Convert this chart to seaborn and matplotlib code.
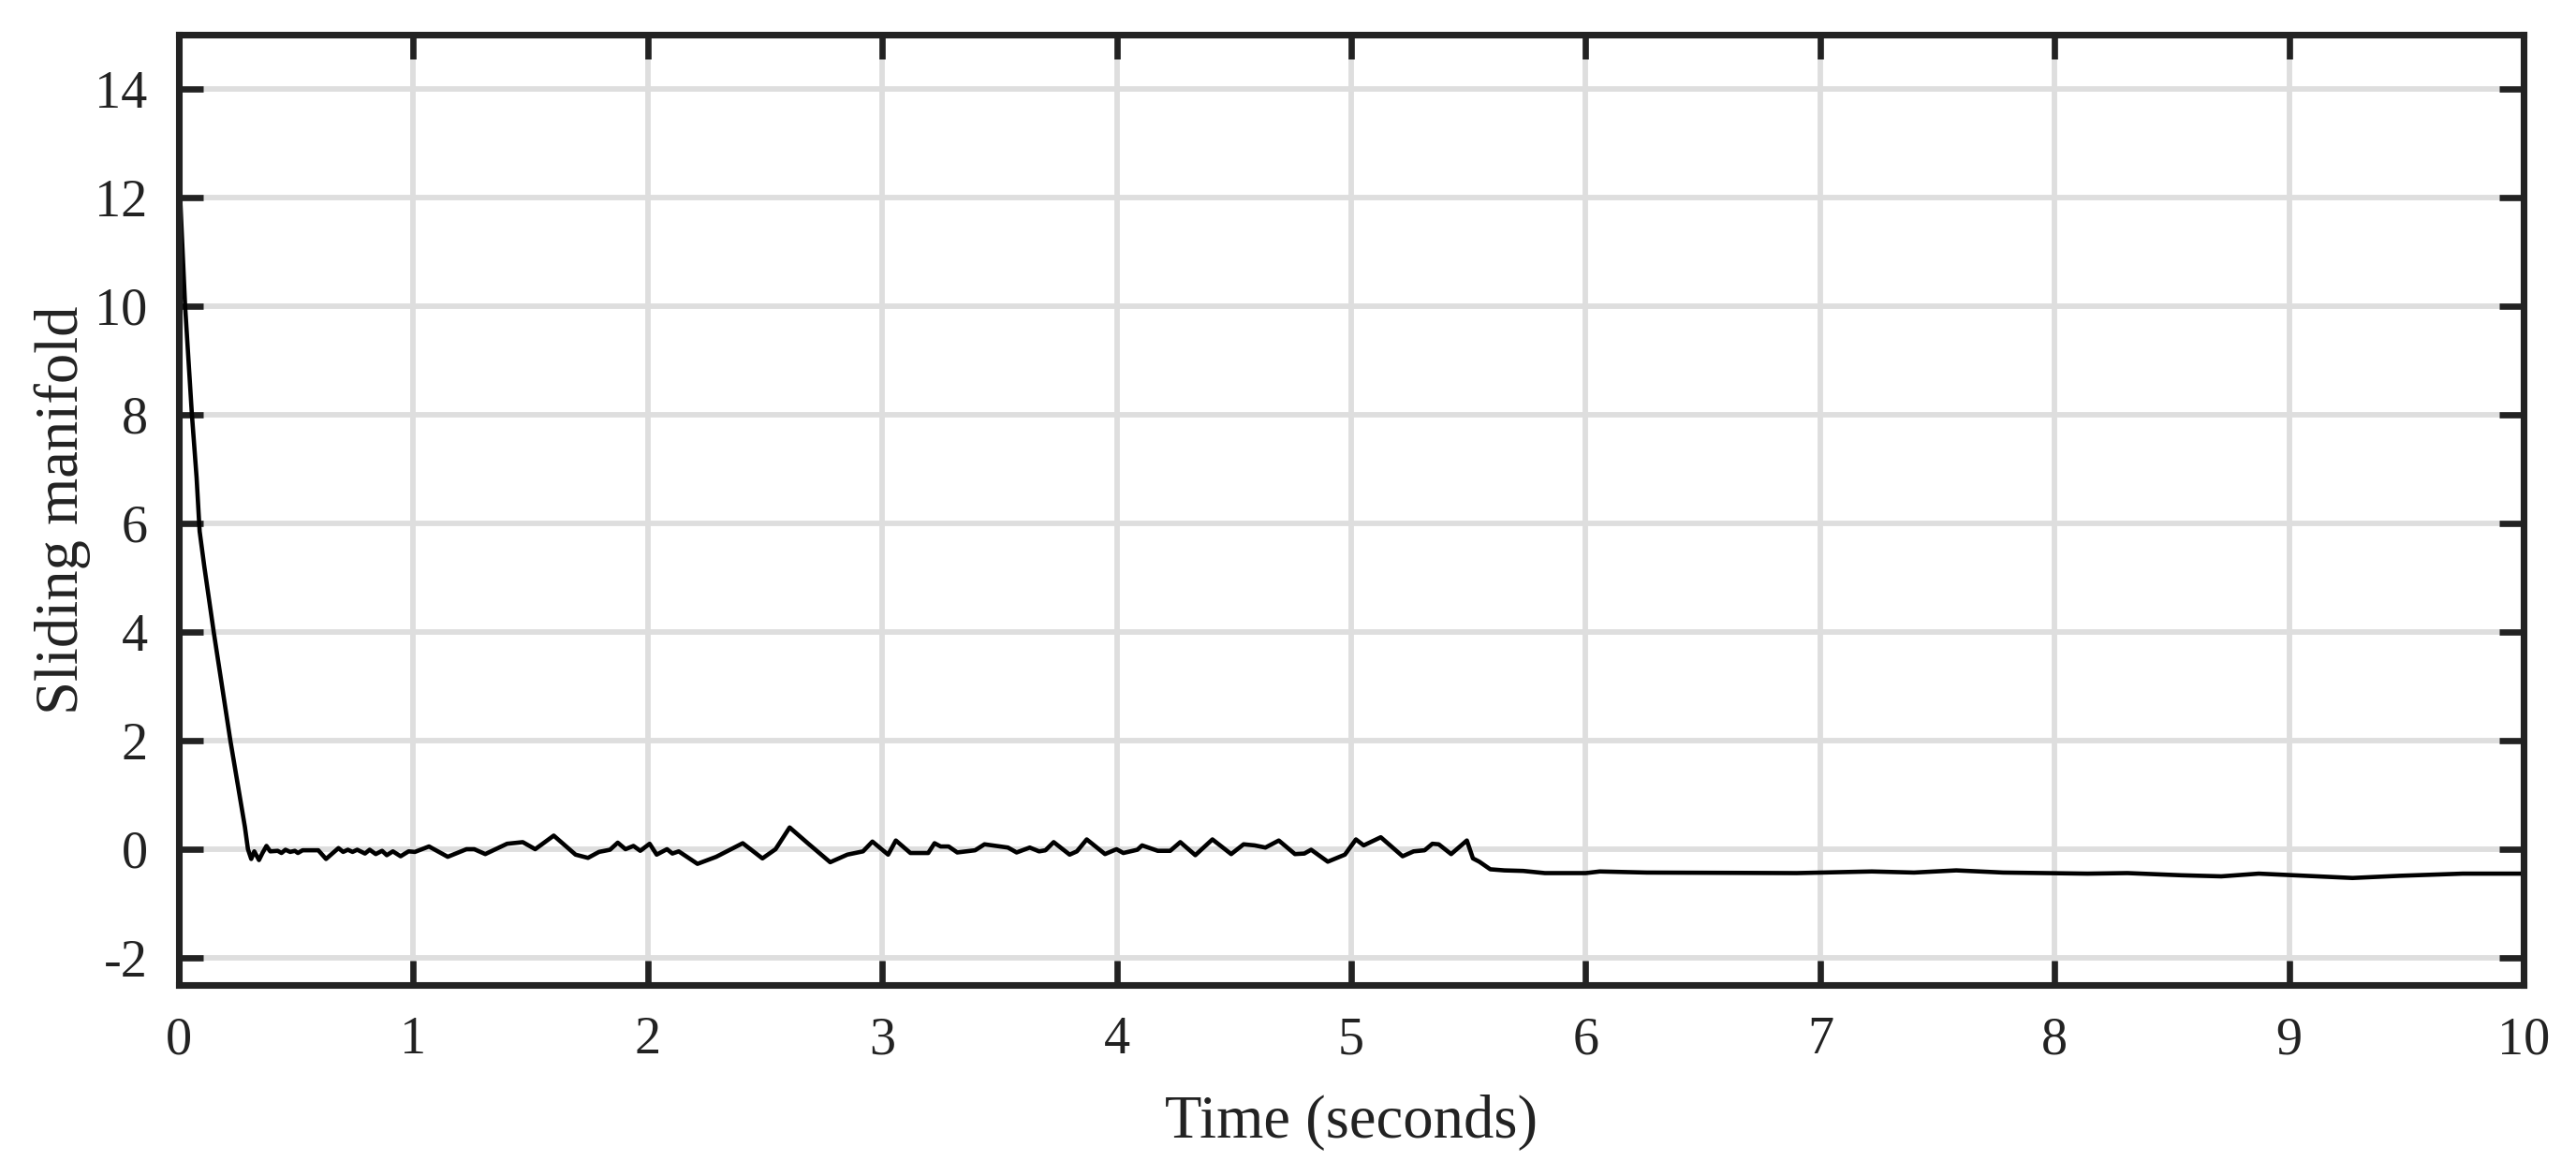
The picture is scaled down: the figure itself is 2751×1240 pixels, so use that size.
import seaborn as sns
import pandas as pd
import matplotlib.pyplot as plt

# values
time_s = [0, 0.027, 0.056, 0.076, 0.089, 0.109, 0.149, 0.22, 0.282, 0.295,
          0.309, 0.322, 0.342, 0.357, 0.374, 0.39, 0.422, 0.438, 0.455, 0.475,
          0.495, 0.508, 0.528, 0.595, 0.628, 0.681, 0.701, 0.721, 0.741, 0.761,
          0.794, 0.814, 0.84, 0.867, 0.887, 0.913, 0.946, 0.98, 1.007, 1.067,
          1.147, 1.227, 1.26, 1.307, 1.40, 1.467, 1.52, 1.599, 1.639, 1.692,
          1.745, 1.792, 1.839, 1.872, 1.905, 1.939, 1.968, 2.008, 2.038, 2.082,
          2.105, 2.132, 2.212, 2.292, 2.405, 2.489, 2.545, 2.605, 2.685, 2.778,
          2.851, 2.918, 2.958, 3.025, 3.058, 3.12, 3.196, 3.223, 3.249, 3.283,
          3.32, 3.396, 3.436, 3.536, 3.573, 3.629, 3.669, 3.696, 3.731, 3.799,
          3.83, 3.872, 3.95, 3.999, 4.028, 4.088, 4.108, 4.175, 4.228, 4.271,
          4.335, 4.408, 4.488, 4.541, 4.588, 4.634, 4.691, 4.76, 4.8, 4.829,
          4.9, 4.973, 5.02, 5.053, 5.126, 5.219, 5.266, 5.313, 5.346, 5.373,
          5.426, 5.493, 5.519, 5.546, 5.593, 5.653, 5.733, 5.826, 6.0, 6.06,
          6.26, 6.9, 7.22, 7.4, 7.58, 7.78, 8.14, 8.31, 8.54, 8.71, 8.87, 9.07,
          9.27, 9.47, 9.74, 10.0]
manifold = [12.55, 10.0, 8.0, 6.84, 5.85, 5.2, 4.0, 2.0, 0.41, 0.0,
            -0.18, -0.04, -0.2, -0.07, 0.06, -0.04, -0.03, -0.07, -0.01, -0.05,
            -0.03, -0.07, -0.02, -0.02, -0.18, 0.02, -0.05, -0.01, -0.05, -0.01,
            -0.08, -0.01, -0.09, -0.03, -0.11, -0.04, -0.13, -0.04, -0.05, 0.05,
            -0.14, 0.0, 0.0, -0.09, 0.1, 0.13, 0.0, 0.25, 0.1, -0.1,
            -0.16, -0.05, -0.01, 0.12, 0.0, 0.06, -0.03, 0.1, -0.1, 0.0,
            -0.08, -0.04, -0.27, -0.14, 0.11, -0.17, 0.0, 0.4, 0.1, -0.24,
            -0.1, -0.04, 0.14, -0.1, 0.16, -0.07, -0.07, 0.11, 0.05, 0.05,
            -0.06, -0.02, 0.09, 0.03, -0.06, 0.03, -0.04, -0.02, 0.13, -0.1,
            -0.04, 0.18, -0.09, 0.0, -0.07, -0.01, 0.07, -0.03, -0.03, 0.13,
            -0.11, 0.18, -0.09, 0.09, 0.07, 0.03, 0.16, -0.09, -0.08, -0.01,
            -0.23, -0.1, 0.18, 0.07, 0.22, -0.13, -0.04, -0.02, 0.1, 0.09,
            -0.09, 0.16, -0.17, -0.23, -0.37, -0.39, -0.4, -0.44, -0.44, -0.41,
            -0.43, -0.44, -0.41, -0.43, -0.39, -0.43, -0.45, -0.44, -0.48, -0.5,
            -0.45, -0.49, -0.53, -0.49, -0.45, -0.45]
x_ticks = list(range(0, 11))
y_ticks = list(range(-2, 15, 2))

df = pd.DataFrame({"Time": time_s, "Sliding manifold": manifold})

sns.set_theme(style="whitegrid")
plt.rcParams['font.family'] = ['Liberation Serif', 'DejaVu Serif']
plt.rcParams['axes.unicode_minus'] = False

fig = plt.figure(figsize=(2751 / 300, 1240 / 300), dpi=300)
ax = fig.add_axes([0.0694, 0.1516, 0.9103, 0.8188])

sns.lineplot(data=df, x="Time", y="Sliding manifold", color="black",
             linewidth=1.1, ax=ax)

ax.set_xlim(0, 10)
ax.set_ylim(-2.5, 15)
ax.set_xticks(x_ticks)
ax.set_yticks(y_ticks)
ax.set_xticklabels([str(v) for v in x_ticks])
ax.set_yticklabels([str(v) for v in y_ticks])
ax.grid(True, color="#dedede", linewidth=1.4)
ax.set_facecolor("white")

for sp in ax.spines.values():
    sp.set_visible(True)
    sp.set_color("#222222")
    sp.set_linewidth(1.7)

ax.tick_params(axis="both", which="major", direction="in", length=6.2,
               width=1.6, color="#222222", labelsize=13.5, labelcolor="#222222",
               top=True, right=True, bottom=True, left=True)
ax.tick_params(axis="x", pad=8)
ax.tick_params(axis="y", pad=8)

ax.set_xlabel("Time (seconds)", fontsize=15.5, color="#222222", labelpad=7.5)
ax.set_ylabel("Sliding manifold", fontsize=15.5, color="#222222", labelpad=1)

fig.savefig("out.png", dpi=300, facecolor="white")
